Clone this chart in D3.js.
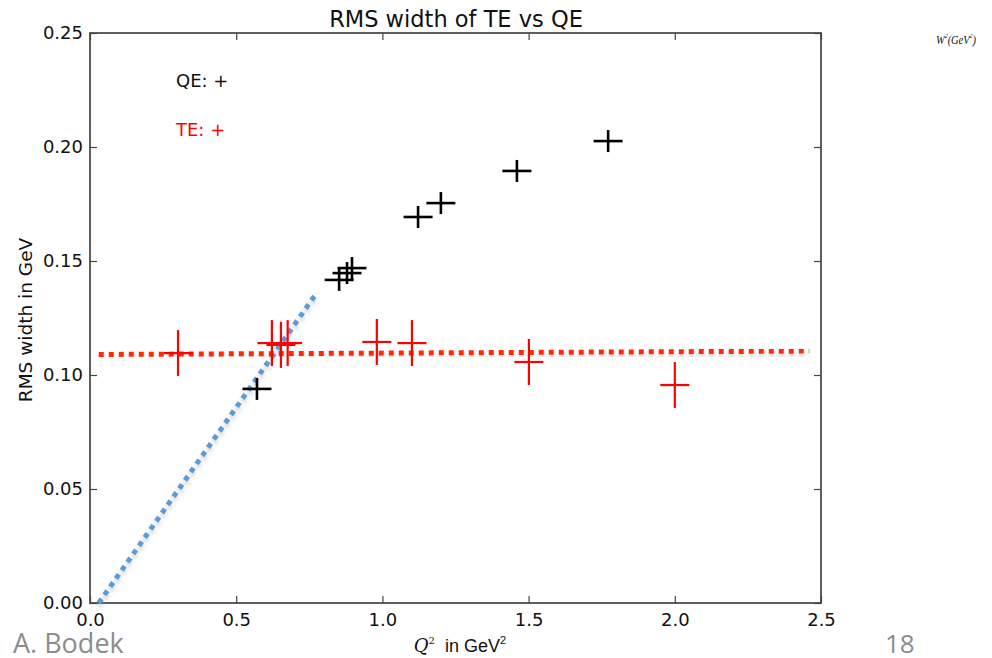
<!DOCTYPE html>
<html>
<head>
<meta charset="utf-8">
<script src="https://cdn.jsdelivr.net/npm/d3@7"></script>
<style>
  html, body { margin: 0; padding: 0; background: #fff; }
  svg { display: block; }
</style>
</head>
<body>
<svg id="chart" width="992" height="658"></svg>
<script>
// ---- data ----
const qeQ2 = [0.571, 0.852, 0.879, 0.896, 1.122, 1.200, 1.460, 1.772];
const qeRMS = [0.0939, 0.1417, 0.1447, 0.1469, 0.1693, 0.1754, 0.1895, 0.2026];
const teQ2 = [0.301, 0.622, 0.653, 0.676, 0.981, 1.101, 1.501, 2.000];
const teRMS = [0.1096, 0.1140, 0.1132, 0.1140, 0.1145, 0.1140, 0.1057, 0.0956];
const teFitQ2 = [0.03, 2.46];
const teFitRMS = [0.1090, 0.1105];
const qeFitQ2 = [0.03, 0.77];
const qeFitRMS = [0.0, 0.135];
const xTicks = [0.0, 0.5, 1.0, 1.5, 2.0, 2.5];
const yTicks = [0.00, 0.05, 0.10, 0.15, 0.20, 0.25];

const svg = d3.select("#chart");
const L = 90, R = 821, T = 33, B = 603;
const x = d3.scaleLinear().domain([0, 2.5]).range([L, R]);
const y = d3.scaleLinear().domain([0, 0.25]).range([B, T]);
const font = "DejaVu Sans, sans-serif";

// shadow filter
const defs = svg.append("defs");
const f = defs.append("filter").attr("id", "shadow").attr("x", "-10%").attr("y", "-50%").attr("width", "120%").attr("height", "200%");
f.append("feDropShadow").attr("dx", 0).attr("dy", 3.5).attr("stdDeviation", 2)
  .attr("flood-color", "#888").attr("flood-opacity", 0.4);

// axes (ticks inward on all four sides)
const axisStyle = g => {
  g.select(".domain").remove();
  g.selectAll(".tick line").attr("stroke", "#444").attr("stroke-width", 1.2);
};
svg.append("g").attr("transform", `translate(0,${B})`)
  .call(d3.axisBottom(x).tickValues(xTicks).tickSize(-7).tickPadding(10).tickFormat(d3.format(".1f")))
  .call(axisStyle)
  .call(g => g.selectAll("text").attr("font-family", font).attr("font-size", 18).attr("fill", "#111"));
svg.append("g").attr("transform", `translate(0,${T})`)
  .call(d3.axisTop(x).tickValues(xTicks).tickSize(-7).tickFormat(""))
  .call(axisStyle);
svg.append("g").attr("transform", `translate(${L},0)`)
  .call(d3.axisLeft(y).tickValues(yTicks).tickSize(-7).tickPadding(7).tickFormat(d3.format(".2f")))
  .call(axisStyle)
  .call(g => g.selectAll("text").attr("font-family", font).attr("font-size", 18).attr("fill", "#111"));
svg.append("g").attr("transform", `translate(${R},0)`)
  .call(d3.axisRight(y).tickValues(yTicks).tickSize(-7).tickFormat(""))
  .call(axisStyle);

// frame
svg.append("rect").attr("x", L).attr("y", T).attr("width", R - L).attr("height", B - T)
  .attr("fill", "none").attr("stroke", "#444").attr("stroke-width", 1.7);

const line = d3.line().x(d => x(d[0])).y(d => y(d[1]));

// fit lines
svg.append("path").datum(d3.zip(qeFitQ2, qeFitRMS)).attr("d", line)
  .attr("stroke", "#5b9bd5").attr("stroke-width", 5).attr("stroke-dasharray", "5 5")
  .attr("fill", "none").attr("filter", "url(#shadow)");
svg.append("path").datum(d3.zip(teFitQ2, teFitRMS)).attr("d", line)
  .attr("stroke", "#ff2a00").attr("stroke-width", 5).attr("stroke-dasharray", "5 5")
  .attr("fill", "none").attr("filter", "url(#shadow)");

// crosses
function crosses(xs, ys, color, hw, hh, sw) {
  const g = svg.append("g").attr("stroke", color).attr("stroke-width", sw);
  const pts = d3.zip(xs, ys);
  g.selectAll("line.h").data(pts).join("line").attr("class", "h")
    .attr("x1", d => x(d[0]) - hw).attr("x2", d => x(d[0]) + hw)
    .attr("y1", d => y(d[1])).attr("y2", d => y(d[1]));
  g.selectAll("line.v").data(pts).join("line").attr("class", "v")
    .attr("x1", d => x(d[0])).attr("x2", d => x(d[0]))
    .attr("y1", d => y(d[1]) - hh).attr("y2", d => y(d[1]) + hh);
}
crosses(teQ2, teRMS, "#ff0000", 14.5, 23, 2.2);
crosses(qeQ2, qeRMS, "#000", 14.5, 11, 2.6);

// legend
svg.append("text").attr("x", 176).attr("y", 87).attr("font-family", font).attr("font-size", 18)
  .attr("fill", "#111").text("QE: +");
svg.append("text").attr("x", 176).attr("y", 136).attr("font-family", font).attr("font-size", 18)
  .attr("fill", "#ff0000").text("TE: +");

// title
svg.append("text").attr("x", 456).attr("y", 27).attr("text-anchor", "middle")
  .attr("font-family", font).attr("font-size", 22.5).attr("fill", "#111").text("RMS width of TE vs QE");

// y label
svg.append("text").attr("transform", `translate(32,${(237 + 403) / 2}) rotate(-90)`)
  .attr("text-anchor", "middle").attr("font-family", font).attr("font-size", 18.5)
  .attr("fill", "#111").text("RMS width in GeV");

// x label
const xl = svg.append("text").attr("x", 460).attr("y", 652).attr("text-anchor", "middle")
  .attr("font-size", 18).attr("fill", "#111");
xl.append("tspan").attr("font-family", "DejaVu Serif, serif").attr("font-style", "italic").text("Q");
xl.append("tspan").attr("font-family", "DejaVu Serif, serif").attr("font-size", 10).attr("dy", -8).text("2");
xl.append("tspan").attr("font-family", "Liberation Sans, sans-serif").attr("dy", 8).text("\u00a0 in GeV");
xl.append("tspan").attr("font-family", "Liberation Sans, sans-serif").attr("font-size", 11).attr("dy", -8).text("2");

// corner note
const w = svg.append("text").attr("x", 936).attr("y", 44).attr("font-family", "Liberation Serif, serif")
  .attr("font-style", "italic").attr("font-size", 12).attr("fill", "#111")
  .attr("textLength", 40).attr("lengthAdjust", "spacingAndGlyphs");
w.append("tspan").text("W");
w.append("tspan").attr("font-size", 7).attr("dy", -6).text("2");
w.append("tspan").attr("dy", 6).text("(GeV");
w.append("tspan").attr("font-size", 7).attr("dy", -6).text("2");
w.append("tspan").attr("dy", 6).text(")");

// footer
svg.append("text").attr("x", 13).attr("y", 653).attr("font-family", "Open Sans, sans-serif")
  .attr("font-size", 27).attr("fill", "#8c8c8c").text("A. Bodek");
svg.append("text").attr("x", 885).attr("y", 653).attr("font-family", "Open Sans, sans-serif")
  .attr("font-size", 26).attr("fill", "#8c8c8c").text("18");
</script>
</body>
</html>
